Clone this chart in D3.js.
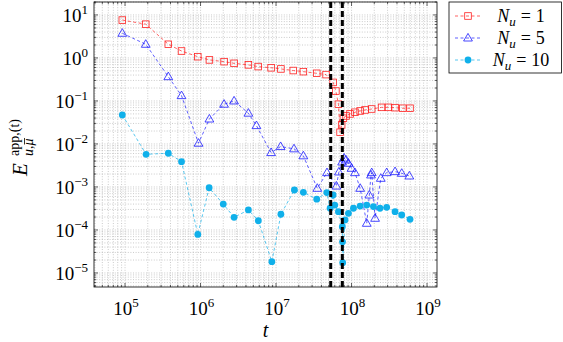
<!DOCTYPE html>
<html>
<head>
<meta charset="utf-8">
<script src="https://cdn.jsdelivr.net/npm/d3@7"></script>
<style>
  body { margin: 0; background: #fff; }
  text { font-family: "Liberation Serif", "DejaVu Serif", serif; fill: #000; }
</style>
</head>
<body>
<svg id="chart" width="563" height="342"></svg>
<script>
// values (t, error)
const tRed = [9.2e4, 1.88e5, 3.74e5, 5.6e5, 9.2e5, 1.31e6, 2.05e6, 2.78e6, 4.3e6, 5.8e6, 8.6e6, 1.16e7,
  1.69e7, 2.3e7, 3.46e7, 4.6e7, 5.7e7, 6.2e7, 6.7e7, 7.05e7, 7.4e7, 7.8e7, 8.45e7, 9.55e7, 1.11e8,
  1.3e8, 1.51e8, 1.85e8, 2.5e8, 3.08e8, 3.77e8, 4.77e8, 5.95e8];
const eRed = [7.6, 6.1, 2.08, 1.45, 1.07, 0.9, 0.82, 0.75, 0.69, 0.63, 0.59, 0.555,
  0.51, 0.48, 0.44, 0.41, 0.27, 0.17, 0.084, 0.0187, 0.0277, 0.0396, 0.0448, 0.0499, 0.0546,
  0.0585, 0.0618, 0.065, 0.071, 0.071, 0.0698, 0.0677, 0.0677];

const tBlue = [9.2e4, 1.88e5, 3.74e5, 5.6e5, 9.4e5, 1.31e6, 2.05e6, 2.78e6, 4.3e6, 5.5e6, 8.6e6, 1.15e7,
  1.73e7, 2.3e7, 3.52e7, 4.73e7, 6.3e7, 6.8e7, 7.5e7, 7.96e7, 8.45e7, 9.1e7, 1.0e8, 1.11e8,
  1.3e8, 1.59e8, 1.72e8, 1.81e8, 1.85e8, 2.05e8, 2.44e8, 2.92e8, 3.77e8, 4.62e8, 5.83e8];
const eBlue = [3.75, 2.08, 0.367, 0.133, 0.0104, 0.038, 0.084, 0.1, 0.052, 0.0267, 0.0063, 0.0087,
  0.0077, 0.0053, 0.00093, 0.00215, 0.00105, 0.00223, 0.0038, 0.0047, 0.00424, 0.00356, 0.00272, 0.00215,
  0.00093, 0.000143, 0.00065, 0.0019, 0.00215, 0.000187, 0.00159, 0.00215, 0.00227, 0.00208, 0.0018];

const tCyan = [9.2e4, 1.9e5, 3.74e5, 5.6e5, 9.2e5, 1.3e6, 2.0e6, 2.78e6, 4.3e6, 5.83e6, 8.8e6, 1.16e7,
  1.75e7, 2.3e7, 3.46e7, 4.7e7, 5.2e7, 5.7e7, 6.0e7, 6.7e7, 7.55e7, 7.6e7, 7.64e7, 8.2e7, 9.1e7,
  1.06e8, 1.3e8, 1.59e8, 1.95e8, 2.38e8, 2.92e8, 3.77e8, 4.62e8, 5.95e8];
const eCyan = [0.0472, 0.00575, 0.00608, 0.00387, 7.9e-5, 9.6e-4, 4.0e-4, 1.97e-4, 2.92e-4, 1.64e-4, 1.83e-5, 2.32e-4,
  8.5e-4, 7.5e-4, 5.2e-4, 7.4e-4, 3.2e-4, 6.5e-4, 3.8e-4, 2.67e-4, 1.19e-4, 5.3e-5, 1.74e-5, 1.71e-4, 2.44e-4,
  3.2e-4, 3.6e-4, 3.8e-4, 3.5e-4, 3.2e-4, 3.37e-4, 2.67e-4, 2.23e-4, 1.77e-4];

const vLines = [5.3e7, 7.55e7];
const xTickExp = [5, 6, 7, 8, 9];
const yTickExp = [1, 0, -1, -2, -3, -4, -5];
const legendNames = ["1", "5", "10"];

var margin = { left: 94, right: 437, top: 2, bottom: 287 };
var svg = d3.select("#chart");

var x = d3.scaleLog().domain([3.88e4, 1.355e9]).range([margin.left, margin.right]);
var y = d3.scaleLog().domain([4.72e-6, 20]).range([margin.bottom, margin.top]);

// grid values (1..9 x 10^k)
function decadeValues(scale) {
  var dom = scale.domain(), out = [];
  for (var k = Math.floor(Math.log10(dom[0])); k <= Math.ceil(Math.log10(dom[1])); k++) {
    for (var m = 1; m <= 9; m++) {
      var v = m * Math.pow(10, k);
      if (v >= dom[0] && v <= dom[1]) out.push({ v: v, major: m === 1 });
    }
  }
  return out;
}
var xs = decadeValues(x), ys = decadeValues(y);

var grid = svg.append("g").attr("class", "grid")
  .attr("stroke", "#aaa").attr("stroke-width", 0.6).attr("stroke-dasharray", "1,1.6");
grid.selectAll(".gx").data(xs).enter().append("line")
  .attr("x1", d => x(d.v)).attr("x2", d => x(d.v))
  .attr("y1", margin.top).attr("y2", margin.bottom);
grid.selectAll(".gy").data(ys).enter().append("line")
  .attr("y1", d => y(d.v)).attr("y2", d => y(d.v))
  .attr("x1", margin.left).attr("x2", margin.right);

// inward ticks on all four sides
var ticks = svg.append("g").attr("stroke", "#000").attr("stroke-width", 0.6);
xs.forEach(function (d) {
  var len = d.major ? 4 : 2.2, px = x(d.v);
  ticks.append("line").attr("x1", px).attr("x2", px).attr("y1", margin.bottom).attr("y2", margin.bottom - len);
  ticks.append("line").attr("x1", px).attr("x2", px).attr("y1", margin.top).attr("y2", margin.top + len);
});
ys.forEach(function (d) {
  var len = d.major ? 4 : 2.2, py = y(d.v);
  ticks.append("line").attr("y1", py).attr("y2", py).attr("x1", margin.left).attr("x2", margin.left + len);
  ticks.append("line").attr("y1", py).attr("y2", py).attr("x1", margin.right).attr("x2", margin.right - len);
});

// tick labels 10^k
xTickExp.forEach(function (k) {
  var t = svg.append("text").attr("x", x(Math.pow(10, k)) + 1).attr("y", 315)
    .attr("text-anchor", "middle").style("font-size", "19px");
  t.append("tspan").text("10");
  t.append("tspan").attr("dy", -8).style("font-size", "13px").text(k);
});
yTickExp.forEach(function (k) {
  var t = svg.append("text").attr("x", 88).attr("y", y(Math.pow(10, k)) + 7)
    .attr("text-anchor", "end").style("font-size", "19px");
  t.append("tspan").text("10");
  t.append("tspan").attr("dy", -8).style("font-size", "13px").text(k < 0 ? "\u2212" + (-k) : k);
});

// series
var series = [
  { name: "1", t: tRed, e: eRed, color: "#ff2020", mark: "square" },
  { name: "5", t: tBlue, e: eBlue, color: "#1a1aff", mark: "triangle" },
  { name: "10", t: tCyan, e: eCyan, color: "#10b0ea", mark: "circle" }
];

var line = d3.line().x(d => x(d[0])).y(d => y(d[1]));

function drawMark(g, type, color) {
  if (type === "circle") {
    g.append("circle").attr("r", 3.4).attr("fill", color);
  } else if (type === "square") {
    g.append("rect").attr("x", -3.3).attr("y", -3.3).attr("width", 6.6).attr("height", 6.6)
      .attr("fill", "none").attr("stroke", color).attr("stroke-width", 0.8);
  } else {
    g.append("path").attr("d", "M0,-4.6L4.4,3L-4.4,3Z")
      .attr("fill", "none").attr("stroke", color).attr("stroke-width", 0.8);
  }
}

series.forEach(function (s) {
  var pts = s.t.map((t, i) => [t, s.e[i]]);
  svg.append("path").attr("d", line(pts)).attr("fill", "none")
    .attr("stroke", s.color).attr("stroke-width", 0.7).attr("stroke-dasharray", "3,2.5");
});
series.forEach(function (s) {
  var pts = s.t.map((t, i) => [t, s.e[i]]);
  svg.append("g").selectAll("g").data(pts).enter().append("g")
    .attr("transform", d => "translate(" + x(d[0]) + "," + y(d[1]) + ")")
    .each(function () { drawMark(d3.select(this), s.mark, s.color); });
});

// thick dashed vertical markers
svg.selectAll(".vline").data(vLines).enter().append("line")
  .attr("x1", d => x(d)).attr("x2", d => x(d))
  .attr("y1", margin.top).attr("y2", margin.bottom)
  .attr("stroke", "#000").attr("stroke-width", 3).attr("stroke-dasharray", "6,3");

// frame
svg.append("rect").attr("x", margin.left).attr("y", margin.top)
  .attr("width", margin.right - margin.left).attr("height", margin.bottom - margin.top)
  .attr("fill", "none").attr("stroke", "#000").attr("stroke-width", 0.8);

// axis titles
svg.append("text").attr("x", (margin.left + margin.right) / 2).attr("y", 337)
  .attr("text-anchor", "middle").style("font-size", "20px").style("font-style", "italic").text("t");

var yl = svg.append("g").attr("transform", "translate(27,145) rotate(-90)");
yl.append("text").attr("x", -31).attr("y", 0).style("font-size", "21px").style("font-style", "italic").text("E");
yl.append("text").attr("x", -11).attr("y", -8).style("font-size", "14px").text("app,(t)");
var sub = yl.append("text").attr("x", -11).attr("y", 6).style("font-size", "14px");
sub.append("tspan").style("font-style", "italic").text("u");
sub.append("tspan").text(",");
var mu = sub.append("tspan").style("font-style", "italic").text("\u03bc");
// bar over mu
var muBox = sub.node().getBBox();
var muLen = mu.node().getComputedTextLength();
yl.append("line")
  .attr("x1", muBox.x + muBox.width - muLen + 1).attr("x2", muBox.x + muBox.width + 0.5)
  .attr("y1", -2.5).attr("y2", -2.5)
  .attr("stroke", "#000").attr("stroke-width", 0.8);

// legend
var lg = svg.append("g");
lg.append("rect").attr("x", 449).attr("y", 2).attr("width", 112.5).attr("height", 71)
  .attr("fill", "#fff").attr("stroke", "#000").attr("stroke-width", 0.8);
series.forEach(function (s, i) {
  var cy = 16 + i * 22;
  lg.append("line").attr("x1", 455).attr("x2", 481).attr("y1", cy).attr("y2", cy)
    .attr("stroke", s.color).attr("stroke-width", 0.7).attr("stroke-dasharray", "3,2.5");
  var g = lg.append("g").attr("transform", "translate(468," + cy + ")");
  drawMark(g, s.mark, s.color);
  var t = lg.append("text").attr("x", 521).attr("y", cy + 6).attr("text-anchor", "middle").style("font-size", "18px");
  t.append("tspan").style("font-style", "italic").text("N");
  t.append("tspan").attr("dy", 4).style("font-size", "13px").style("font-style", "italic").text("u");
  t.append("tspan").attr("dy", -4).attr("dx", 5).text("=");
  t.append("tspan").attr("dx", 5).text(legendNames[i]);
});
</script>
</body>
</html>
